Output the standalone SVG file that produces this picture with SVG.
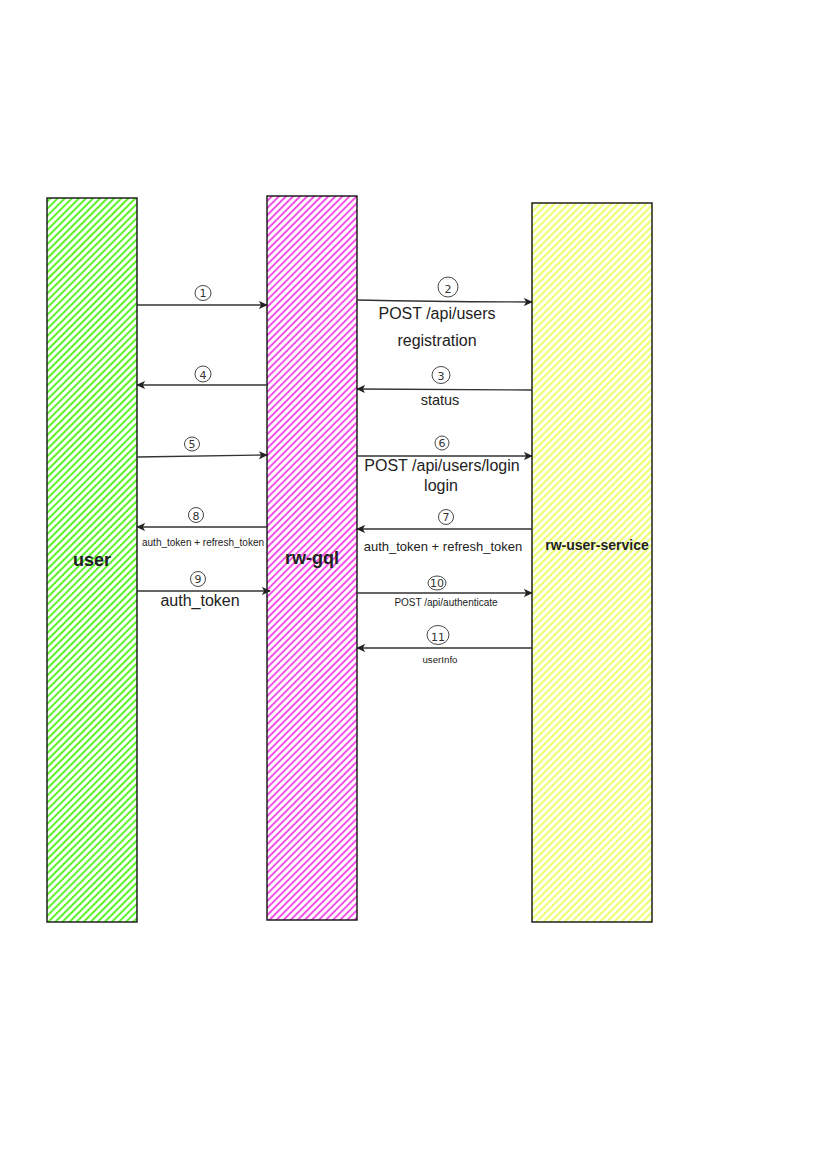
<svg xmlns="http://www.w3.org/2000/svg" width="827" height="1169" viewBox="0 0 827 1169">
<style>
text{font-family:"Liberation Sans",Arial,sans-serif;fill:#222}
.lbl{font-weight:bold;text-anchor:middle}
.edge{stroke:#333;stroke-width:1.3;fill:none;marker-end:url(#arr)}
.num{fill:none;stroke:#333;stroke-width:0.9}
.nt{font-family:"DejaVu Sans",sans-serif;font-size:11px;text-anchor:middle;fill:#333}
.et{text-anchor:middle}
.box{stroke:#111;stroke-width:1.4}
</style>
<defs>
<marker id="arr" viewBox="0 0 10 10" refX="9" refY="5" markerWidth="9" markerHeight="9" markerUnits="userSpaceOnUse" orient="auto">
<path d="M0,0.5 L10,5 L0,9.5 L2.5,5 Z" fill="#222"/>
</marker>
<pattern id="hg" width="5" height="10" patternUnits="userSpaceOnUse" patternTransform="rotate(45)"><rect width="2" height="10" fill="#5cf52a"/></pattern>
<pattern id="hm" width="5" height="10" patternUnits="userSpaceOnUse" patternTransform="rotate(45)"><rect width="2" height="10" fill="#f550e8"/></pattern>
<pattern id="hy" width="5" height="10" patternUnits="userSpaceOnUse" patternTransform="rotate(45)"><rect width="2.2" height="10" fill="#eeff70"/></pattern>
</defs>
<rect width="827" height="1169" fill="#fff"/>
<g id="user">
<rect x="47" y="198" width="90" height="724" fill="url(#hg)" class="box"/>
<text x="92" y="566" class="lbl" font-size="18">user</text>
</g>
<g id="rw-gql">
<rect x="267" y="196" width="90" height="724" fill="url(#hm)" class="box"/>
<text x="312" y="564" class="lbl" font-size="18">rw-gql</text>
</g>
<g id="rw-user-service">
<rect x="532" y="203" width="120" height="719" fill="url(#hy)" class="box"/>
<text x="597" y="550" class="lbl" font-size="14">rw-user-service</text>
</g>
<g id="connectors">
<path class="edge" d="M137,305 L267,305"/>
<path class="edge" d="M357,300 Q440,302 532,302"/>
<path class="edge" d="M532,390 L357,389"/>
<path class="edge" d="M267,385 L137,385"/>
<path class="edge" d="M137,457 L267,455"/>
<path class="edge" d="M357,456 L532,456"/>
<path class="edge" d="M532,529 L357,529"/>
<path class="edge" d="M267,527 L137,527"/>
<path class="edge" d="M137,591 L270,591"/>
<path class="edge" d="M357,593 L532,593"/>
<path class="edge" d="M532,648 L357,648"/>
</g>
<g id="labels">
<ellipse class="num" cx="203" cy="293" rx="8" ry="7.5"/><text class="nt" x="203" y="297">1</text>
<ellipse class="num" cx="448" cy="287" rx="10" ry="10"/><text class="nt" x="448" y="293" font-size="15">2</text>
<ellipse class="num" cx="441" cy="375" rx="9" ry="8.5"/><text class="nt" x="441" y="380" font-size="13">3</text>
<ellipse class="num" cx="203" cy="374" rx="8" ry="8"/><text class="nt" x="203" y="379" font-size="13">4</text>
<ellipse class="num" cx="192" cy="444" rx="7.5" ry="7"/><text class="nt" x="192" y="448">5</text>
<ellipse class="num" cx="442" cy="443" rx="7" ry="7"/><text class="nt" x="442" y="447">6</text>
<ellipse class="num" cx="446" cy="517" rx="7.5" ry="7.5"/><text class="nt" x="446" y="521">7</text>
<ellipse class="num" cx="196" cy="515" rx="7.5" ry="7.5"/><text class="nt" x="196" y="520" font-size="12">8</text>
<ellipse class="num" cx="198" cy="579" rx="7.5" ry="7.5"/><text class="nt" x="198" y="583">9</text>
<ellipse class="num" cx="437" cy="583" rx="9" ry="7"/><text class="nt" x="437" y="587">10</text>
<ellipse class="num" cx="438" cy="635" rx="11" ry="9.5"/><text class="nt" x="438" y="641" font-size="15">11</text>
<text class="et" x="437" y="319" font-size="16">POST /api/users</text>
<text class="et" x="437" y="346" font-size="16">registration</text>
<text class="et" x="440" y="405" font-size="14.5">status</text>
<text class="et" x="442" y="471" font-size="16">POST /api/users/login</text>
<text class="et" x="441" y="491" font-size="16">login</text>
<text class="et" x="203" y="546" font-size="10">auth_token + refresh_token</text>
<text class="et" x="443" y="551" font-size="13">auth_token + refresh_token</text>
<text class="et" x="200" y="606" font-size="16">auth_token</text>
<text class="et" x="446" y="606" font-size="10">POST /api/authenticate</text>
<text class="et" x="440" y="663" font-size="9.7">userInfo</text>
</g>
</svg>
